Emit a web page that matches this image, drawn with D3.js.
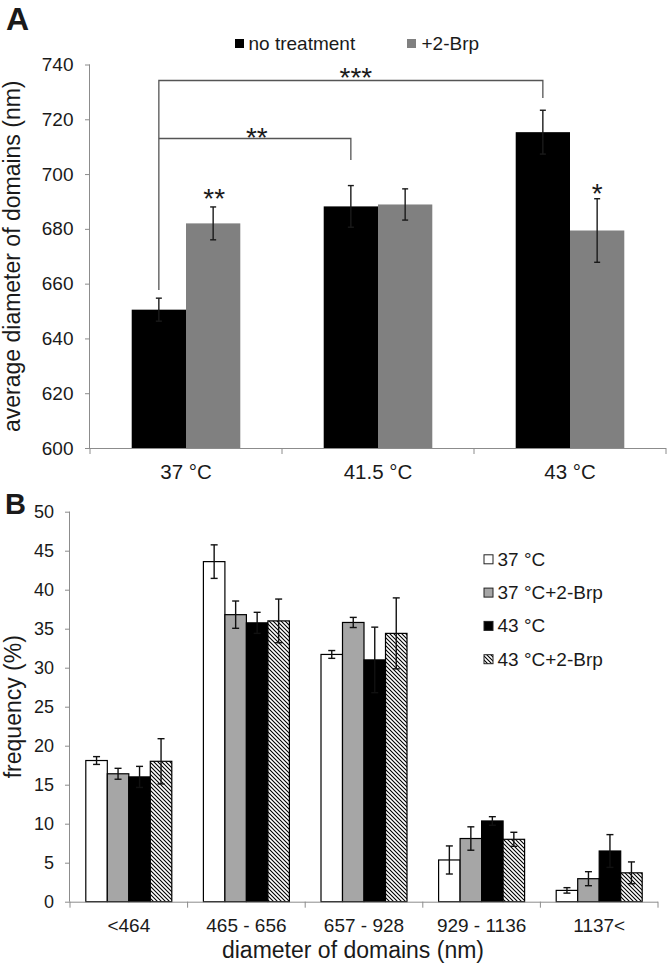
<!DOCTYPE html>
<html><head><meta charset="utf-8">
<script src="https://cdnjs.cloudflare.com/ajax/libs/d3/7.8.5/d3.min.js"></script>
<style>
body{margin:0;background:#fff}
svg text{font-family:"Liberation Sans",Arial,sans-serif;fill:#1a1a1a}
</style></head>
<body>
<script>
// ---------- Panel A data ----------
const catsA = ["37 °C", "41.5 °C", "43 °C"];
const seriesA = ["no treatment", "+2-Brp"];
const noTreatment = [650.5, 688.2, 715.3];
const noTreatmentErr = [4.2, 7.6, 8.0];
const brp = [682.0, 688.9, 679.4];
const brpErr = [6.0, 5.7, 11.6];
const ticksA = [600, 620, 640, 660, 680, 700, 720, 740];

// ---------- Panel B data ----------
const catsB = ["<464", "465 - 656", "657 - 928", "929 - 1136", "1137<"];
const seriesB = ["37 °C", "37 °C+2-Brp", "43 °C", "43 °C+2-Brp"];
const f37 = [18.1, 43.6, 31.7, 5.35, 1.45];
const f37Err = [0.5, 2.15, 0.5, 1.8, 0.35];
const f37Brp = [16.4, 36.8, 35.8, 8.1, 2.95];
const f37BrpErr = [0.7, 1.75, 0.65, 1.5, 0.9];
const f43 = [16.0, 35.75, 31.0, 10.35, 6.5];
const f43Err = [1.35, 1.35, 4.2, 0.55, 2.1];
const f43Brp = [18.0, 36.0, 34.4, 8.0, 3.7];
const f43BrpErr = [2.9, 2.8, 4.55, 0.9, 1.4];
const ticksB = [0, 5, 10, 15, 20, 25, 30, 35, 40, 45, 50];

const W = 672, H = 966;
const svg = d3.select("body").append("svg").attr("width", W).attr("height", H);
const axisColor = "#8c8c8c";

// ================= PANEL A =================
const xA = d3.scaleBand().domain(catsA).range([90, 666]).padding(0);
const xA1 = d3.scaleBand().domain(seriesA).range([0, xA.bandwidth()]).paddingInner(0).paddingOuter(0.768);
const yA = d3.scaleLinear().domain([600, 740]).range([448, 64.5]);
const colA = {"no treatment": "#000000", "+2-Brp": "#808080"};
const dataA = [noTreatment, brp], errA = [noTreatmentErr, brpErr];

const gA = svg.append("g");
seriesA.forEach((s, si) => {
  catsA.forEach((c, ci) => {
    const v = dataA[si][ci];
    gA.append("rect").attr("x", xA(c) + xA1(s)).attr("width", xA1.bandwidth())
      .attr("y", yA(v)).attr("height", yA(600) - yA(v)).attr("fill", colA[s]);
  });
});
seriesA.forEach((s, si) => {
  catsA.forEach((c, ci) => {
    const v = dataA[si][ci], e = errA[si][ci];
    const cx = xA(c) + xA1(s) + xA1.bandwidth() / 2;
    const g = gA.append("g").attr("stroke", "#1a1a1a").attr("stroke-width", 1.4);
    g.append("line").attr("x1", cx).attr("x2", cx).attr("y1", yA(v + e)).attr("y2", yA(v - e));
    g.append("line").attr("x1", cx - 3).attr("x2", cx + 3).attr("y1", yA(v + e)).attr("y2", yA(v + e));
    g.append("line").attr("x1", cx - 3).attr("x2", cx + 3).attr("y1", yA(v - e)).attr("y2", yA(v - e));
  });
});
const yAxisA = svg.append("g").attr("transform", "translate(90,0)")
  .call(d3.axisLeft(yA).tickValues(ticksA).tickSize(5).tickPadding(11.5).tickFormat(d3.format("d")));
yAxisA.select(".domain").attr("stroke", axisColor).attr("d", `M-0.5,${yA(740)}V${yA(600)}`);
yAxisA.selectAll(".tick line").attr("stroke", axisColor);
yAxisA.selectAll("text").attr("font-size", 19).attr("fill", "#1a1a1a");
const xAxisA = svg.append("g").attr("transform", `translate(0,${yA(600)})`)
  .call(d3.axisBottom(xA).tickSize(0).tickPadding(16.5));
xAxisA.select(".domain").attr("stroke", axisColor).attr("d", `M90,0.5H666`);
xAxisA.selectAll("text").attr("font-size", 20.5).attr("fill", "#1a1a1a");
catsA.concat(["end"]).forEach((c, i) => {
  const x = i < catsA.length ? xA(c) : xA.range()[1];
  xAxisA.append("line").attr("x1", x).attr("x2", x).attr("y1", 0).attr("y2", 6).attr("stroke", axisColor);
});
svg.append("text").attr("transform", `translate(12,${(yA(600) + yA(740)) / 2}) rotate(-90)`)
  .attr("text-anchor", "middle").attr("dominant-baseline", "central").attr("font-size", 23)
  .text("average diameter of domains (nm)");
const legA = svg.append("g");
[["no treatment", 235, 248.5], ["+2-Brp", 407, 421.5]].forEach(([s, sx, tx]) => {
  legA.append("rect").attr("x", sx).attr("y", 39).attr("width", 9).attr("height", 9).attr("fill", colA[s]);
  legA.append("text").attr("x", tx).attr("y", 43.5).attr("dominant-baseline", "central")
    .attr("font-size", 19).text(s);
});
const cx37 = xA("37 °C") + xA1("no treatment") + xA1.bandwidth() / 2;
const cx415 = xA("41.5 °C") + xA1("no treatment") + xA1.bandwidth() / 2;
const cx43 = xA("43 °C") + xA1("no treatment") + xA1.bandwidth() / 2;
const br = svg.append("g").attr("stroke", "#555").attr("stroke-width", 1.3).attr("fill", "none");
br.append("path").attr("d", `M${cx37},290V80.5H${cx43}V98`);
br.append("path").attr("d", `M${cx37},138.5H${cx415}V160`);
function star(x, yc, t) {
  svg.append("text").attr("x", x).attr("y", yc + 16).attr("text-anchor", "middle")
    .attr("font-size", 28).attr("fill", "#333").text(t);
}
star((cx37 + cx43) / 2 + 5, 70.5, "***");
star((cx37 + cx415) / 2 + 2, 130.5, "**");
star(xA("37 °C") + xA1("+2-Brp") + xA1.bandwidth() / 2 + 1, 191.5, "**");
star(xA("43 °C") + xA1("+2-Brp") + xA1.bandwidth() / 2, 186.5, "*");
svg.append("text").attr("x", 6).attr("y", 30).attr("font-size", 32).attr("font-weight", "bold")
  .attr("fill", "#222").text("A");

// ================= PANEL B =================
const defs = svg.append("defs");
const pat = defs.append("pattern").attr("id", "hatch").attr("patternUnits", "userSpaceOnUse")
  .attr("width", 4).attr("height", 4);
pat.append("rect").attr("width", 4).attr("height", 4).attr("fill", "#fff");
pat.append("path").attr("d", "M-1,-1L5,5M-1,3L1,5M3,-1L5,1").attr("stroke", "#000").attr("stroke-width", 1.1);

const xB = d3.scaleBand().domain(catsB).range([70, 658]).padding(0);
const xB1 = d3.scaleBand().domain(seriesB).range([0, xB.bandwidth()]).paddingInner(0).paddingOuter(0.735);
const yB = d3.scaleLinear().domain([0, 50]).range([901.7, 511.7]);
const fillB = {"37 °C": "#ffffff", "37 °C+2-Brp": "#a6a6a6", "43 °C": "#000000", "43 °C+2-Brp": "url(#hatch)"};
const dataB = [f37, f37Brp, f43, f43Brp], errB = [f37Err, f37BrpErr, f43Err, f43BrpErr];

const gB = svg.append("g");
seriesB.forEach((s, si) => {
  catsB.forEach((c, ci) => {
    const v = dataB[si][ci];
    gB.append("rect").attr("x", xB(c) + xB1(s)).attr("width", xB1.bandwidth())
      .attr("y", yB(v)).attr("height", yB(0) - yB(v)).attr("fill", fillB[s])
      .attr("stroke", "#000").attr("stroke-width", 1.2);
  });
});
seriesB.forEach((s, si) => {
  catsB.forEach((c, ci) => {
    const v = dataB[si][ci], e = errB[si][ci];
    const cx = xB(c) + xB1(s) + xB1.bandwidth() / 2;
    const g = gB.append("g").attr("stroke", "#111").attr("stroke-width", 1.4);
    g.append("line").attr("x1", cx).attr("x2", cx).attr("y1", yB(v + e)).attr("y2", yB(v - e));
    g.append("line").attr("x1", cx - 3.5).attr("x2", cx + 3.5).attr("y1", yB(v + e)).attr("y2", yB(v + e));
    g.append("line").attr("x1", cx - 3.5).attr("x2", cx + 3.5).attr("y1", yB(v - e)).attr("y2", yB(v - e));
  });
});
const yAxisB = svg.append("g").attr("transform", "translate(70,0)")
  .call(d3.axisLeft(yB).tickValues(ticksB).tickSize(5).tickPadding(11));
yAxisB.select(".domain").attr("stroke", axisColor).attr("d", `M-0.5,${yB(50)}V${yB(0)}`);
yAxisB.selectAll(".tick line").attr("stroke", axisColor);
yAxisB.selectAll("text").attr("font-size", 18).attr("fill", "#1a1a1a");
const xAxisB = svg.append("g").attr("transform", `translate(0,${yB(0)})`)
  .call(d3.axisBottom(xB).tickSize(0).tickPadding(16.5));
xAxisB.select(".domain").attr("stroke", axisColor).attr("d", `M70,0.5H658`);
xAxisB.selectAll("text").attr("font-size", 19).attr("fill", "#1a1a1a");
catsB.concat(["end"]).forEach((c, i) => {
  const x = i < catsB.length ? xB(c) : xB.range()[1];
  xAxisB.append("line").attr("x1", x).attr("x2", x).attr("y1", 0).attr("y2", 6).attr("stroke", axisColor);
});
svg.append("text").attr("x", 353).attr("y", 950).attr("text-anchor", "middle").attr("dominant-baseline", "central")
  .attr("font-size", 23).text("diameter of domains (nm)");
svg.append("text").attr("transform", `translate(13,${(yB(0) + yB(50)) / 2}) rotate(-90)`)
  .attr("text-anchor", "middle").attr("dominant-baseline", "central").attr("font-size", 23)
  .text("frequency (%)");
const legB = svg.append("g");
seriesB.forEach((s, i) => {
  const yc = 559.3 + i * 33.3;
  legB.append("rect").attr("x", 484).attr("y", yc - 4.5).attr("width", 9).attr("height", 9)
    .attr("fill", fillB[s]).attr("stroke", "#222").attr("stroke-width", 1);
  legB.append("text").attr("x", 497.5).attr("y", yc).attr("dominant-baseline", "central")
    .attr("font-size", 19).text(s);
});
svg.append("text").attr("x", 5).attr("y", 514).attr("font-size", 29).attr("font-weight", "bold")
  .attr("fill", "#222").text("B");
</script>
</body></html>
